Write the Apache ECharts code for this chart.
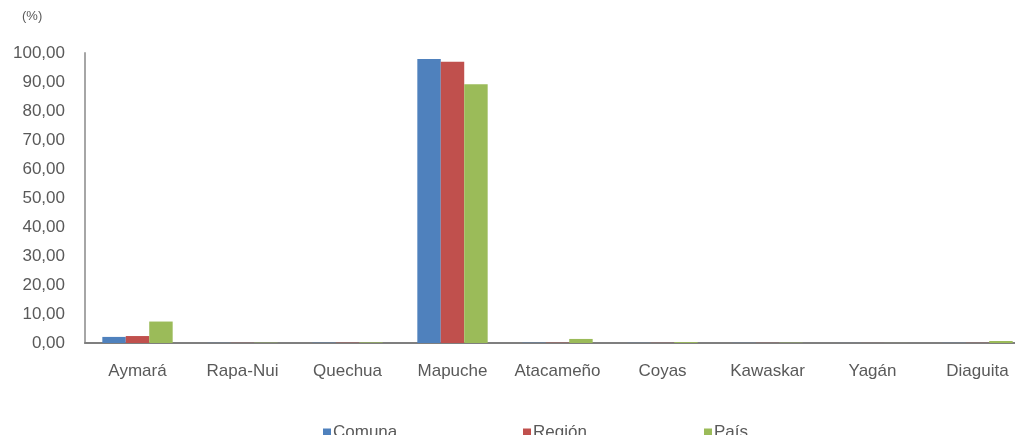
<!DOCTYPE html>
<html>
<head>
<meta charset="utf-8">
<script src="https://cdn.jsdelivr.net/npm/echarts@6/dist/echarts.min.js"></script>
<style>html,body{margin:0;padding:0;background:#fff;overflow:hidden;width:1015px;height:435px}#c{width:1032px;height:435px}</style>
</head>
<body>
<div id="c"></div>
<script>
const categories = ['Aymará','Rapa-Nui','Quechua','Mapuche','Atacameño','Coyas','Kawaskar','Yagán','Diaguita'];
const comuna = [2.1, 0.05, 0.1, 97.9, 0.1, 0.05, 0.05, 0.02, 0.05];
const region = [2.4, 0.05, 0.1, 97.0, 0.1, 0.05, 0.05, 0.02, 0.05];
const pais   = [7.4, 0.1, 0.2, 89.2, 1.4, 0.3, 0.1, 0.02, 0.7];
const seriesNames = ['Comuna','Región','País'];
const colors = ['#4F81BD','#C0504D','#9BBB59'];

const font = 'Liberation Sans';
const chart = echarts.init(document.getElementById('c'));
const mk = (name, data, color) => ({
  name, type: 'bar', data, barGap: '0%', barCategoryGap: '33%',
  itemStyle: { color }
});
const legendAt = (name, left) => ({
  top: 419, left, itemWidth: 8, itemHeight: 8, icon: 'rect', itemGap: 0,
  textStyle: { fontSize: 17, color: '#595959', fontFamily: font, padding: [0,0,0,-3] },
  data: [name]
});
chart.setOption({
  animation: false,
  textStyle: { fontFamily: font },
  color: colors,
  graphic: [{ type: 'text', left: 22, top: 10, style: { text: '(%)', font: '13px ' + font, fill: '#595959' } }],
  grid: { left: 85, top: 53, width: 945, height: 290, containLabel: false },
  legend: [legendAt(seriesNames[0], 318), legendAt(seriesNames[1], 518), legendAt(seriesNames[2], 699)],
  xAxis: {
    type: 'category', data: categories,
    axisLine: { lineStyle: { color: '#7f7f7f', width: 2 } },
    axisTick: { show: false },
    axisLabel: { interval: 0, fontSize: 17, color: '#595959', margin: 20, fontFamily: font }
  },
  yAxis: {
    type: 'value', min: 0, max: 100, interval: 10,
    axisLine: { show: true, lineStyle: { color: '#a6a6a6', width: 2 } },
    axisTick: { show: false },
    splitLine: { show: false },
    axisLabel: { fontSize: 17, color: '#595959', margin: 20, fontFamily: font,
      formatter: v => v.toFixed(2).replace('.', ',') }
  },
  series: [mk(seriesNames[0], comuna, colors[0]), mk(seriesNames[1], region, colors[1]), mk(seriesNames[2], pais, colors[2])]
});
</script>
</body>
</html>
